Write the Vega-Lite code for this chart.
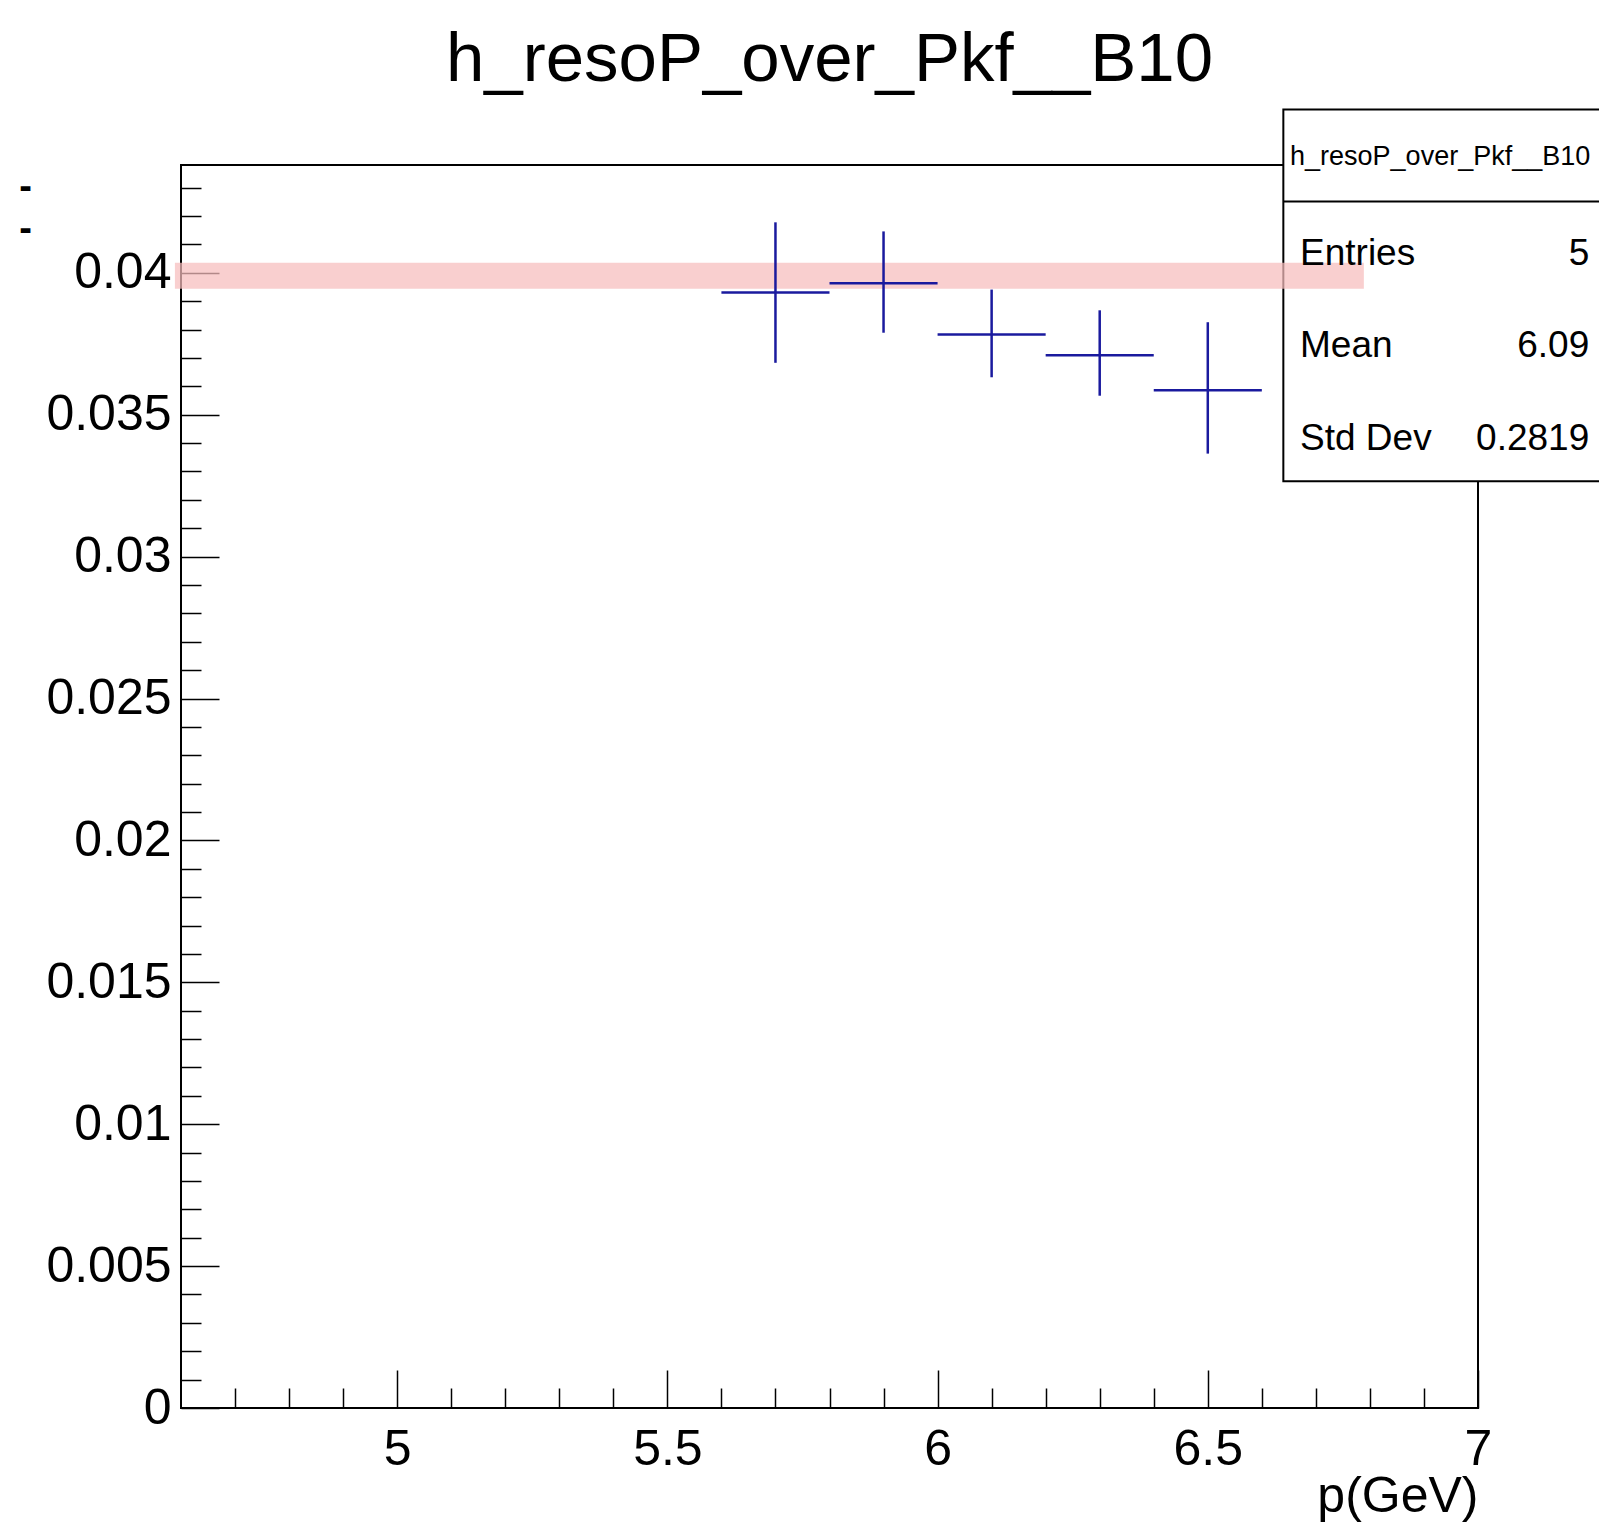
{
  "$schema": "https://vega.github.io/schema/vega-lite/v6.json",
  "autosize": {"type": "none"},
  "width": 1297,
  "height": 1243,
  "padding": {"left": 181, "top": 165, "right": 121, "bottom": 115},
  "background": "white",
  "config": {
    "view": {"stroke": "black", "strokeWidth": 2},
    "font": "Liberation Sans"
  },
  "title": {
    "text": "h_resoP_over_Pkf__B10",
    "font": "Liberation Sans",
    "fontSize": 69,
    "fontWeight": "normal",
    "color": "black",
    "anchor": "middle",
    "frame": "group",
    "baseline": "alphabetic",
    "offset": -41
  },
  "datasets": {
    "bins": [
      {"p": 5.7, "p_lo": 5.6, "p_hi": 5.8, "reso": 0.03931, "err_lo": 0.03683, "err_hi": 0.04178},
      {"p": 5.9, "p_lo": 5.8, "p_hi": 6.0, "reso": 0.03963, "err_lo": 0.03789, "err_hi": 0.04146},
      {"p": 6.1, "p_lo": 6.0, "p_hi": 6.2, "reso": 0.03783, "err_lo": 0.03632, "err_hi": 0.03941},
      {"p": 6.3, "p_lo": 6.2, "p_hi": 6.4, "reso": 0.03710, "err_lo": 0.03567, "err_hi": 0.03868},
      {"p": 6.5, "p_lo": 6.4, "p_hi": 6.6, "reso": 0.03586, "err_lo": 0.03363, "err_hi": 0.03826}
    ]
  },
  "layer": [
    {
      "data": {"values": [{"box": "stats"}]},
      "mark": {"type": "rect", "fill": "white", "stroke": "black", "strokeWidth": 2, "clip": false},
      "encoding": {
        "x": {"datum": 6.6398, "type": "quantitative"},
        "x2": {"datum": 7.3},
        "y": {"datum": 0.045755, "type": "quantitative"},
        "y2": {"datum": 0.032656}
      }
    },
    {
      "data": {"values": [{"box": "stats"}]},
      "mark": {"type": "rule", "color": "black", "strokeWidth": 2, "clip": false},
      "encoding": {
        "x": {"datum": 6.6398, "type": "quantitative"},
        "x2": {"datum": 7.3},
        "y": {"datum": 0.042513, "type": "quantitative"}
      }
    },
    {
      "data": {"values": [{"highlight": 0.0399, "from": 4.5887, "to": 6.7888}]},
      "mark": {"type": "rule", "color": "#f6bcbc", "opacity": 0.72, "strokeWidth": 26, "strokeCap": "butt", "clip": false},
      "encoding": {
        "x": {"field": "from", "type": "quantitative"},
        "x2": {"field": "to"},
        "y": {"field": "highlight", "type": "quantitative"}
      }
    },
    {
      "data": {"name": "bins"},
      "mark": {"type": "rule", "color": "#1a1a9e", "strokeWidth": 2.5},
      "encoding": {
        "x": {
          "field": "p_lo", "type": "quantitative",
          "scale": {"domain": [4.6, 7], "nice": false, "zero": false},
          "axis": {
            "orient": "bottom",
            "domain": false,
            "grid": false,
            "tickCount": 200,
            "values": [4.7, 4.8, 4.9, 5, 5.1, 5.2, 5.3, 5.4, 5.5, 5.6, 5.7, 5.8, 5.9, 6, 6.1, 6.2, 6.3, 6.4, 6.5, 6.6, 6.7, 6.8, 6.9, 7],
            "tickColor": "black",
            "tickWidth": 1.5,
            "tickSize": {"condition": {"test": "round(datum.value*10) % 5 == 0", "value": -38}, "value": -20},
            "labelExpr": "round(datum.value*10) % 5 == 0 ? format(datum.value, '~g') : ''",
            "labelFont": "Liberation Sans",
            "labelFontSize": 50,
            "labelColor": "black",
            "labelPadding": 54,
            "labelFlush": false,
            "labelOverlap": false,
            "title": "p(GeV)",
            "titleFont": "Liberation Sans",
            "titleFontSize": 50,
            "titleFontWeight": "normal",
            "titleColor": "black",
            "titleAlign": "right",
            "titleBaseline": "alphabetic",
            "titleX": 1297,
            "titleY": 103
          }
        },
        "x2": {"field": "p_hi"},
        "y": {
          "field": "reso", "type": "quantitative",
          "scale": {"domain": [0, 0.0438], "nice": false, "zero": false},
          "axis": {
            "orient": "left",
            "domain": false,
            "grid": false,
            "tickCount": 200,
            "values": [0, 0.001, 0.002, 0.003, 0.004, 0.005, 0.006, 0.007, 0.008, 0.009, 0.01, 0.011, 0.012, 0.013, 0.014, 0.015, 0.016, 0.017, 0.018, 0.019, 0.02, 0.021, 0.022, 0.023, 0.024, 0.025, 0.026, 0.027, 0.028, 0.029, 0.03, 0.031, 0.032, 0.033, 0.034, 0.035, 0.036, 0.037, 0.038, 0.039, 0.04, 0.041, 0.042, 0.043],
            "tickColor": "black",
            "tickWidth": 1.5,
            "tickSize": {"condition": {"test": "round(datum.value*1000) % 5 == 0", "value": -38}, "value": -20},
            "labelExpr": "round(datum.value*1000) % 5 == 0 ? format(datum.value, '~g') : ''",
            "labelFont": "Liberation Sans",
            "labelFontSize": 50,
            "labelColor": "black",
            "labelPadding": 48,
            "labelFlush": false,
            "labelOverlap": false,
            "title": ["-", "-"],
            "titleFont": "Liberation Sans",
            "titleFontSize": 38,
            "titleFontWeight": "bold",
            "titleColor": "black",
            "titleAngle": 0,
            "titleAlign": "center",
            "titleBaseline": "middle",
            "titleLineHeight": 42,
            "titleX": -156,
            "titleY": 22
          }
        }
      }
    },
    {
      "data": {"name": "bins"},
      "mark": {"type": "rule", "color": "#1a1a9e", "strokeWidth": 2.5},
      "encoding": {
        "x": {"field": "p", "type": "quantitative"},
        "y": {"field": "err_lo", "type": "quantitative"},
        "y2": {"field": "err_hi"}
      }
    },
    {
      "data": {"values": [{"name": "h_resoP_over_Pkf__B10"}]},
      "mark": {"type": "text", "align": "left", "baseline": "alphabetic", "font": "Liberation Sans", "fontSize": 27, "color": "black", "clip": false},
      "encoding": {
        "x": {"datum": 6.6522, "type": "quantitative"},
        "y": {"datum": 0.043817, "type": "quantitative"},
        "text": {"field": "name"}
      }
    },
    {
      "data": {"values": [{"stat": "Entries", "val": "5", "row": 0.040293}, {"stat": "Mean", "val": "6.09", "row": 0.03704}, {"stat": "Std Dev", "val": "0.2819", "row": 0.033773}]},
      "mark": {"type": "text", "align": "left", "baseline": "alphabetic", "font": "Liberation Sans", "fontSize": 37, "color": "black", "clip": false},
      "encoding": {
        "x": {"datum": 6.6707, "type": "quantitative"},
        "y": {"field": "row", "type": "quantitative"},
        "text": {"field": "stat"}
      }
    },
    {
      "data": {"values": [{"stat": "Entries", "val": "5", "row": 0.040293}, {"stat": "Mean", "val": "6.09", "row": 0.03704}, {"stat": "Std Dev", "val": "0.2819", "row": 0.033773}]},
      "mark": {"type": "text", "align": "right", "baseline": "alphabetic", "font": "Liberation Sans", "fontSize": 37, "color": "black", "clip": false},
      "encoding": {
        "x": {"datum": 7.2059, "type": "quantitative"},
        "y": {"field": "row", "type": "quantitative"},
        "text": {"field": "val"}
      }
    }
  ]
}
